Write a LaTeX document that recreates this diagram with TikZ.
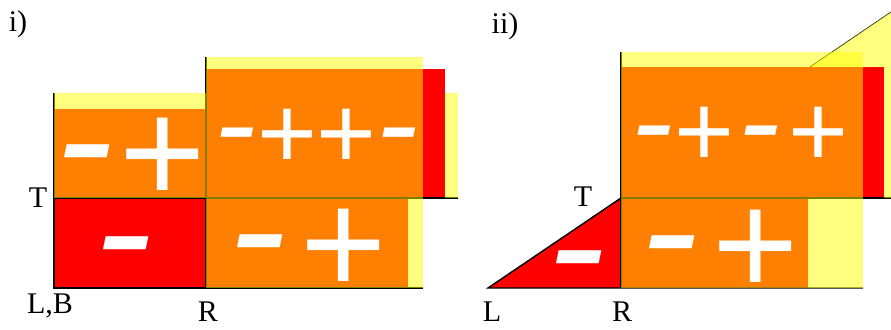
\documentclass[tikz,border=0pt]{standalone}
\usepackage{fontspec}
\setmainfont{Liberation Serif}
\newfontfamily\signfont{Liberation Sans}
\usetikzlibrary{positioning}
\definecolor{boxred}{HTML}{FF0000}
\definecolor{boxyellow}{HTML}{FFFF00}

\begin{document}
\begin{tikzpicture}[x=0.75pt, y=-0.75pt,
    redpart/.style={fill=boxred},
    yellowpart/.style={fill=boxyellow, fill opacity=0.5},
    edge/.style={black, line width=1.1pt},
    faint/.style={black, line width=0.6pt},
    lbl/.style={inner sep=0pt, font=\fontsize{22.5}{22.5}\selectfont},
    possign/.style={text=white, inner sep=0pt, yshift={-0.058*#1pt},
                    font=\signfont\fontsize{#1}{#1}\selectfont},
    negsign/.style={text=white, inner sep=0pt, yshift={-0.108*#1pt},
                    font=\signfont\itshape\fontsize{#1}{#1}\selectfont}]
  \useasboundingbox (0,0) rectangle (891,329);

  % i) red layer
  \fill[redpart] (54,109) rectangle (206,288);
  \fill[redpart] (206,69) rectangle (445,198);
  \fill[redpart] (206,198) rectangle (408,288);
  % ii) red layer
  \fill[redpart] (488,288) -- (621,198) -- (621,288) -- cycle;
  \fill[redpart] (621,67) rectangle (884,198);
  \fill[redpart] (621,198) rectangle (808,288);

  % edges
  \draw[edge] (54,93) -- (54,288) -- (423,288);
  \draw[edge] (206,57) -- (206,288);
  \draw[edge] (54,198) -- (458,198);
  \draw[edge] (863,288) -- (488,288) -- (621,198);
  \draw[edge] (621,52) -- (621,288);
  \draw[edge] (621,198) -- (891,198);
  \draw[faint] (810,67) -- (891,12);

  % yellow layer
  \fill[yellowpart] (54,93) rectangle (206,198);
  \fill[yellowpart] (206,57) rectangle (423,198);
  \fill[yellowpart] (445,93) rectangle (458,198);
  \fill[yellowpart] (206,198) rectangle (423,288);
  \fill[yellowpart] (621,52) rectangle (863,198);
  \fill[yellowpart] (621,198) rectangle (863,288);
  \fill[yellowpart] (810,67) -- (891,12) -- (891,198) -- (884,198)
    -- (884,67) -- cycle;

  % signs
  \foreach \x/\y/\sz [count=\i] in {85/152/125, 124/244/125, 258/242/125,
      235/133/90, 397/133/90, 577/258/125, 670/243/125, 652/131/90, 759/131/90}
    \node[negsign=\sz, xscale=1.05] (neg\i) at (\x,\y) {-};
  \foreach \x/\y/\sz [count=\i] in {163/152/111, 344/243/111, 287/133/77,
      346/133/77, 756/244/111, 704/131/77, 818/131/77}
    \node[possign=\sz] (pos\i) at (\x,\y) {+};

  % labels
  \node[lbl] (capi) at (18,24) {i)};
  \node[lbl] (ti) at (38,198) {T};
  \node[lbl] (lbi) at (50,306) {L,B};
  \node[lbl] (ri) at (208,312) {R};
  \node[lbl] (capii) at (505,26) {ii)};
  \node[lbl] (tii) at (583,197) {T};
  \node[lbl] (lii) at (492,312) {L};
  \node[lbl] (rii) at (622,312) {R};
\end{tikzpicture}
\end{document}
